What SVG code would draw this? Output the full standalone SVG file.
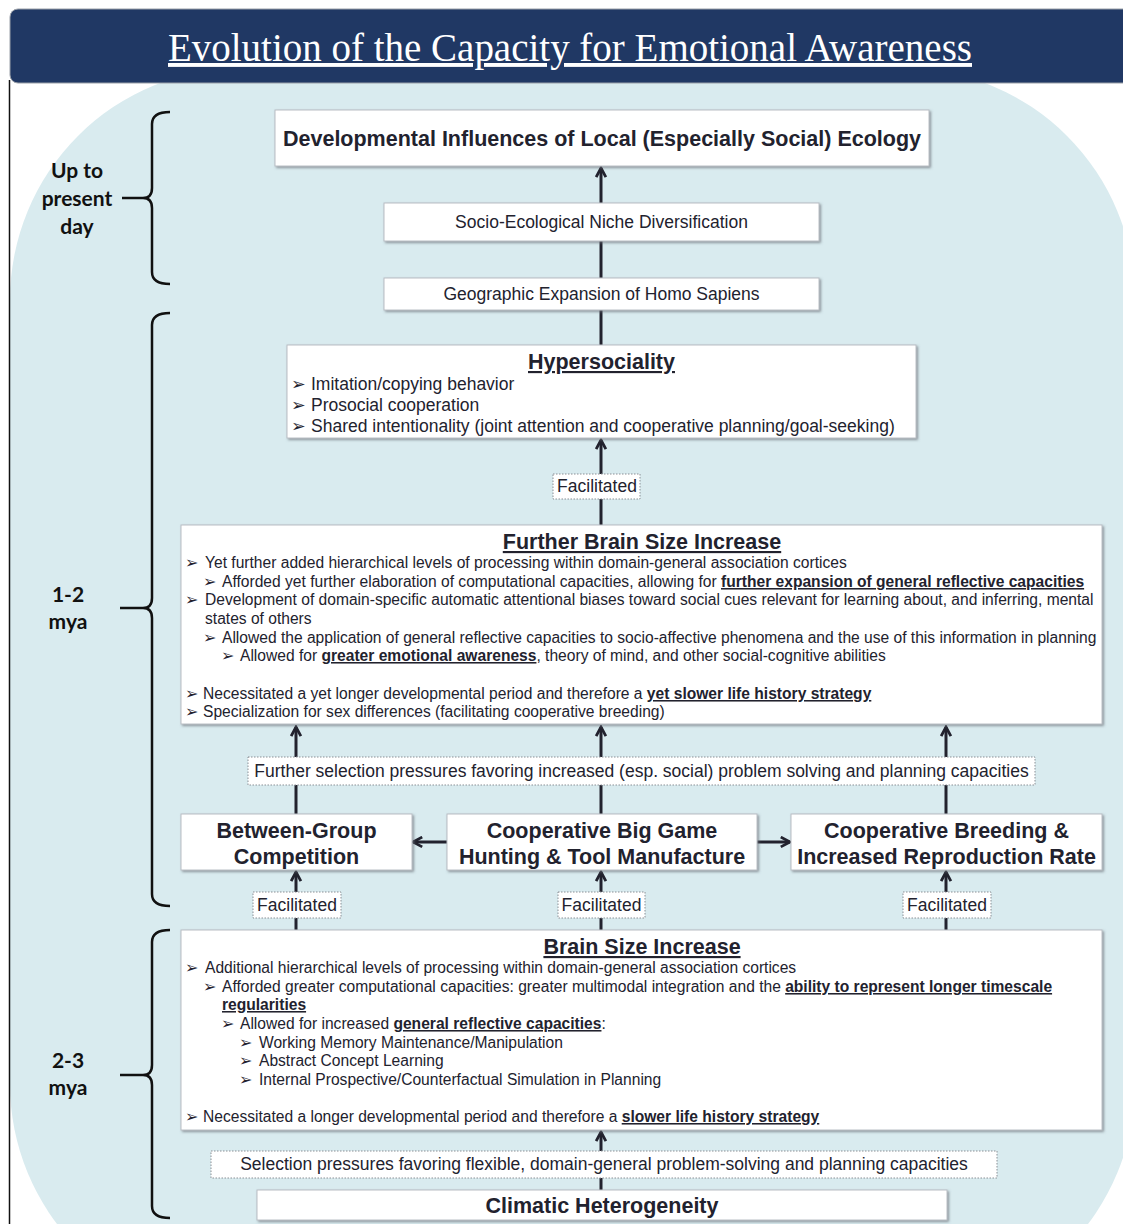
<svg xmlns="http://www.w3.org/2000/svg" width="1123" height="1224" viewBox="0 0 1123 1224">
<style>
.bg{fill:#d9ebef}
.box{fill:#fff;stroke:#b9bec4;stroke-width:1;filter:url(#sh)}
.lbl{fill:#fff;stroke:#8a8f95;stroke-width:1;stroke-dasharray:1.5 1.5}
.t{font-family:"Liberation Sans",Arial,sans-serif;fill:#22222e}
.b{font-weight:bold}
.u{text-decoration:underline}
.c{text-anchor:middle}
.bul{font-family:"DejaVu Sans",sans-serif;fill:#22222e}
.bs{font-size:16px}
.bl{font-size:17.5px}
.con{stroke:#22222e;stroke-width:3;fill:none}
.brace{stroke:#111;stroke-width:2.5;fill:none}
.era{font-family:Lato,"Open Sans",sans-serif;font-weight:bold;font-size:21px;fill:#111;text-anchor:middle}
</style>
<defs>
<filter id="sh" x="-5%" y="-20%" width="110%" height="140%">
<feDropShadow dx="1.5" dy="1.5" stdDeviation="0.8" flood-color="#6b7078" flood-opacity="0.7"/>
</filter>
<marker id="ah" viewBox="0 0 12 12" refX="10.5" refY="6" markerWidth="13" markerHeight="13" markerUnits="userSpaceOnUse" orient="auto">
<path d="M2,1.5 L10.5,6 L2,10.5" fill="none" stroke="#22222e" stroke-width="2.6"/>
</marker>
</defs>

<rect class="bg" x="10" y="68" width="1125" height="1248" rx="232"/>
<line x1="9.5" y1="80" x2="9.5" y2="1224" stroke="#111" stroke-width="1.5"/>

<g id="header">
<rect x="10" y="9" width="1135" height="74" rx="8" fill="#203864" stroke="#9aa0a8" stroke-width="1"/>
<text x="570" y="61" font-family="'Liberation Serif','Times New Roman',serif" font-size="39" fill="#fff" text-anchor="middle" text-decoration="underline" textLength="804" lengthAdjust="spacingAndGlyphs">Evolution of the Capacity for Emotional Awareness</text>
</g>

<g id="eras">
<g id="era-present">
<path class="brace" d="M170,112 Q152,112 152,124 L152,188 Q152,198 143,198 Q152,198 152,208 L152,272 Q152,284 170,284"/>
<line class="brace" x1="122" y1="198" x2="143" y2="198"/>
<text class="era" x="77" y="178">Up to</text>
<text class="era" x="77" y="206">present</text>
<text class="era" x="77" y="234">day</text>
</g>
<g id="era-1-2">
<path class="brace" d="M170,313 Q152,313 152,325 L152,598 Q152,608 143,608 Q152,608 152,618 L152,894 Q152,906 170,906"/>
<line class="brace" x1="120" y1="608" x2="143" y2="608"/>
<text class="era" x="68" y="602">1-2</text>
<text class="era" x="68" y="629">mya</text>
</g>
<g id="era-2-3">
<path class="brace" d="M170,930 Q152,930 152,942 L152,1065 Q152,1075 143,1075 Q152,1075 152,1085 L152,1206 Q152,1218 170,1218"/>
<line class="brace" x1="120" y1="1075" x2="143" y2="1075"/>
<text class="era" x="68" y="1068">2-3</text>
<text class="era" x="68" y="1095">mya</text>
</g>
</g>

<g id="connectors">
<path class="con" d="M601,345 L601,168" marker-end="url(#ah)"/>
<path class="con" d="M601,525 L601,440" marker-end="url(#ah)"/>
<path class="con" d="M296,814 L296,727" marker-end="url(#ah)"/>
<path class="con" d="M601,814 L601,727" marker-end="url(#ah)"/>
<path class="con" d="M946,814 L946,727" marker-end="url(#ah)"/>
<path class="con" d="M447,842 L413,842" marker-end="url(#ah)"/>
<path class="con" d="M757,842 L790,842" marker-end="url(#ah)"/>
<path class="con" d="M296,930 L296,872" marker-end="url(#ah)"/>
<path class="con" d="M601,930 L601,872" marker-end="url(#ah)"/>
<path class="con" d="M946,930 L946,872" marker-end="url(#ah)"/>
<path class="con" d="M601,1190 L601,1132" marker-end="url(#ah)"/>
</g>

<g id="n-local-ecology">
<rect class="box" x="275" y="110" width="654" height="56"/>
<text class="t b c" x="602" y="146" font-size="21.5">Developmental Influences of Local (Especially Social) Ecology</text>
</g>
<g id="n-niche">
<rect class="box" x="384" y="203" width="435" height="38"/>
<text class="t c" x="601.5" y="228" font-size="17.5">Socio-Ecological Niche Diversification</text>
</g>
<g id="n-expansion">
<rect class="box" x="384" y="278" width="435" height="32"/>
<text class="t c" x="601.5" y="300" font-size="17.5">Geographic Expansion of Homo Sapiens</text>
</g>

<g id="n-hypersociality">
<rect class="box" x="287" y="345" width="629" height="93"/>
<text class="t b u c" x="601.5" y="369" font-size="21.5">Hypersociality</text>
<text class="bul bl" x="291" y="390">➢</text>
<text class="t" x="311" y="390" font-size="17.5">Imitation/copying behavior</text>
<text class="bul bl" x="291" y="411">➢</text>
<text class="t" x="311" y="411" font-size="17.5">Prosocial cooperation</text>
<text class="bul bl" x="291" y="432">➢</text>
<text class="t" x="311" y="432" font-size="17.5">Shared intentionality (joint attention and cooperative planning/goal-seeking)</text>
</g>

<g id="l-facilitated-1">
<rect class="lbl" x="553" y="474" width="87" height="25"/>
<text class="t c" x="597" y="492" font-size="17.5">Facilitated</text>
</g>

<g id="n-further-brain" font-size="15.6">
<rect class="box" x="181" y="525" width="921" height="199"/>
<text class="t b u c" x="642" y="549" font-size="21.5">Further Brain Size Increase</text>
<text class="bul bs" x="185" y="568">➢</text>
<text class="t" x="205" y="568">Yet further added hierarchical levels of processing within domain-general association cortices</text>
<text class="bul bs" x="203" y="587">➢</text>
<text class="t" x="222" y="587">Afforded yet further elaboration of computational capacities, allowing for <tspan class="b u">further expansion of general reflective capacities</tspan></text>
<text class="bul bs" x="185" y="605">➢</text>
<text class="t" x="205" y="605">Development of domain-specific automatic attentional biases toward social cues relevant for learning about, and inferring, mental</text>
<text class="t" x="205" y="624">states of others</text>
<text class="bul bs" x="203" y="643">➢</text>
<text class="t" x="222" y="643">Allowed the application of general reflective capacities to socio-affective phenomena and the use of this information in planning</text>
<text class="bul bs" x="221" y="661">➢</text>
<text class="t" x="240" y="661">Allowed for <tspan class="b u">greater emotional awareness</tspan>, theory of mind, and other social-cognitive abilities</text>
<text class="bul bs" x="185" y="699">➢</text>
<text class="t" x="203" y="699">Necessitated a yet longer developmental period and therefore a <tspan class="b u">yet slower life history strategy</tspan></text>
<text class="bul bs" x="185" y="717">➢</text>
<text class="t" x="203" y="717">Specialization for sex differences (facilitating cooperative breeding)</text>
</g>

<g id="l-further-selection">
<rect class="lbl" x="248" y="757" width="787" height="28"/>
<text class="t c" x="641.5" y="777" font-size="17.5">Further selection pressures favoring increased (esp. social) problem solving and planning capacities</text>
</g>

<g id="n-between-group">
<rect class="box" x="181" y="814" width="231" height="56"/>
<text class="t b c" x="296.5" y="838" font-size="21.5">Between-Group</text>
<text class="t b c" x="296.5" y="864" font-size="21.5">Competition</text>
</g>
<g id="n-big-game">
<rect class="box" x="447" y="814" width="310" height="56"/>
<text class="t b c" x="602" y="838" font-size="21.5">Cooperative Big Game</text>
<text class="t b c" x="602" y="864" font-size="21.5">Hunting &amp; Tool Manufacture</text>
</g>
<g id="n-breeding">
<rect class="box" x="791" y="814" width="311" height="56"/>
<text class="t b c" x="946.5" y="838" font-size="21.5">Cooperative Breeding &amp;</text>
<text class="t b c" x="946.5" y="864" font-size="21.5">Increased Reproduction Rate</text>
</g>

<g id="l-facilitated-2">
<rect class="lbl" x="253" y="892" width="88" height="26"/>
<text class="t c" x="297" y="911" font-size="17.5">Facilitated</text>
</g>
<g id="l-facilitated-3">
<rect class="lbl" x="558" y="892" width="87" height="26"/>
<text class="t c" x="601.5" y="911" font-size="17.5">Facilitated</text>
</g>
<g id="l-facilitated-4">
<rect class="lbl" x="903" y="892" width="88" height="26"/>
<text class="t c" x="947" y="911" font-size="17.5">Facilitated</text>
</g>

<g id="n-brain-size" font-size="15.6">
<rect class="box" x="181" y="930" width="921" height="200"/>
<text class="t b u c" x="642" y="954" font-size="21.5">Brain Size Increase</text>
<text class="bul bs" x="185" y="973">➢</text>
<text class="t" x="205" y="973">Additional hierarchical levels of processing within domain-general association cortices</text>
<text class="bul bs" x="203" y="992">➢</text>
<text class="t" x="222" y="992">Afforded greater computational capacities: greater multimodal integration and the <tspan class="b u">ability to represent longer timescale</tspan></text>
<text class="t b u" x="222" y="1010">regularities</text>
<text class="bul bs" x="221" y="1029">➢</text>
<text class="t" x="240" y="1029">Allowed for increased <tspan class="b u">general reflective capacities</tspan>:</text>
<text class="bul bs" x="239" y="1048">➢</text>
<text class="t" x="259" y="1048">Working Memory Maintenance/Manipulation</text>
<text class="bul bs" x="239" y="1066">➢</text>
<text class="t" x="259" y="1066">Abstract Concept Learning</text>
<text class="bul bs" x="239" y="1085">➢</text>
<text class="t" x="259" y="1085">Internal Prospective/Counterfactual Simulation in Planning</text>
<text class="bul bs" x="185" y="1122">➢</text>
<text class="t" x="203" y="1122">Necessitated a longer developmental period and therefore a <tspan class="b u">slower life history strategy</tspan></text>
</g>

<g id="l-selection">
<rect class="lbl" x="211" y="1151" width="786" height="27"/>
<text class="t c" x="604" y="1170" font-size="17.5">Selection pressures favoring flexible, domain-general problem-solving and planning capacities</text>
</g>

<g id="n-climatic">
<rect class="box" x="257" y="1190" width="690" height="30"/>
<text class="t b c" x="602" y="1213" font-size="21.5">Climatic Heterogeneity</text>
</g>
</svg>
